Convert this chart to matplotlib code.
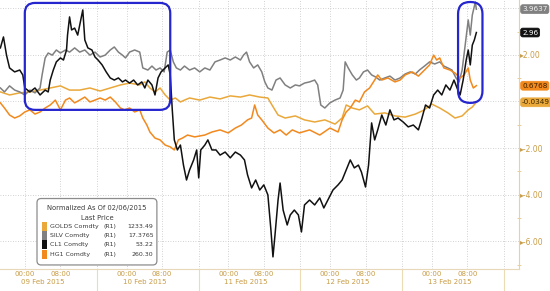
import matplotlib
matplotlib.use('Agg')  # no display in the sandbox
import matplotlib.pyplot as plt
from matplotlib.patches import FancyBboxPatch, Rectangle
from matplotlib.transforms import blended_transform_factory

# ---------------------------------------------------------------------------
# Data: x is in trading-session days (session 0 = 09 Feb 2015),
# y is the price normalized as of 02/06/2015
# ---------------------------------------------------------------------------

cl1_t = [0.05, 0.08, 0.11, 0.14, 0.19, 0.24, 0.27, 0.29, 0.34, 0.39, 0.44, 0.49, 0.52,
         0.54, 0.57, 0.60, 0.64, 0.67, 0.70, 0.71, 0.73, 0.75, 0.78, 0.81, 0.83, 0.86,
         0.88, 0.91, 0.95, 0.98, 1.01, 1.05, 1.09, 1.13, 1.17, 1.21, 1.25, 1.28, 1.32,
         1.36, 1.40, 1.44, 1.47, 1.50, 1.54, 1.57, 1.60, 1.63, 1.67, 1.70, 1.72, 1.74,
         1.76, 1.79, 1.82, 1.85, 1.88, 1.91, 1.95, 1.98, 2.00, 2.02, 2.06, 2.09, 2.13,
         2.17, 2.21, 2.26, 2.31, 2.36, 2.41, 2.45, 2.48, 2.52, 2.56, 2.60, 2.64, 2.68,
         2.71, 2.73, 2.75, 2.78, 2.80, 2.83, 2.87, 2.90, 2.94, 2.98, 3.01, 3.04, 3.09,
         3.14, 3.19, 3.23, 3.27, 3.32, 3.37, 3.41, 3.45, 3.49, 3.53, 3.57, 3.60, 3.64,
         3.67, 3.70, 3.73, 3.76, 3.80, 3.84, 3.88, 3.92, 3.96, 4.01, 4.06, 4.11, 4.16,
         4.19, 4.23, 4.27, 4.31, 4.35, 4.39, 4.43, 4.47, 4.51, 4.54, 4.57, 4.60, 4.63,
         4.65, 4.67, 4.69, 4.71, 4.73]
cl1_v = [2.30, 2.77, 1.99, 1.44, 1.27, 1.35, 1.14, 0.58, 0.41, 0.58, 0.28, 0.49, 0.41,
         0.92, 1.35, 1.70, 1.87, 1.78, 2.21, 2.85, 3.63, 3.07, 3.15, 2.85, 3.28, 3.93,
         2.64, 2.30, 2.21, 1.91, 1.78, 1.57, 1.27, 1.01, 0.92, 1.01, 0.84, 0.92, 0.79,
         0.92, 0.71, 0.84, 0.58, 0.92, 0.71, 0.28, 1.01, 1.27, 1.44, 1.57, 1.14, -0.36,
         -1.65, -2.08, -1.87, -2.73, -3.37, -2.94, -2.51, -2.08, -3.28, -2.08, -1.87, -1.65, -2.08,
         -2.08, -2.30, -2.17, -2.42, -2.17, -2.30, -2.51, -3.15, -3.71, -3.37, -3.80, -3.58, -4.01,
         -5.52, -6.67, -5.73, -4.23, -3.50, -4.66, -5.30, -4.87, -4.66, -4.87, -5.60, -4.44, -4.23,
         -4.44, -4.14, -4.57, -4.23, -3.80, -3.58, -3.37, -2.94, -2.51, -2.85, -2.73, -3.03, -3.67,
         -2.73, -0.92, -1.65, -1.22, -0.58, -1.01, -0.36, -0.79, -0.71, -0.88, -1.09, -1.01, -1.22,
         -0.79, -0.15, -0.28, 0.28, 0.49, 0.28, 0.71, 0.49, 0.92, 0.58, 0.28, 0.92, 1.78,
         2.21, 1.57, 2.42, 2.64, 2.96]

silv_t = [0.05, 0.09, 0.14, 0.19, 0.24, 0.29, 0.34, 0.39, 0.44, 0.46, 0.49, 0.52, 0.56,
          0.60, 0.64, 0.69, 0.73, 0.78, 0.83, 0.88, 0.93, 0.98, 1.03, 1.08, 1.13, 1.17,
          1.21, 1.25, 1.28, 1.32, 1.37, 1.42, 1.45, 1.50, 1.54, 1.58, 1.62, 1.66, 1.69,
          1.72, 1.75, 1.78, 1.82, 1.86, 1.91, 1.96, 2.01, 2.06, 2.11, 2.16, 2.21, 2.26,
          2.31, 2.36, 2.41, 2.44, 2.47, 2.50, 2.54, 2.58, 2.62, 2.65, 2.68, 2.72, 2.76,
          2.80, 2.85, 2.90, 2.95, 2.99, 3.04, 3.09, 3.14, 3.17, 3.20, 3.24, 3.29, 3.34,
          3.39, 3.42, 3.44, 3.47, 3.51, 3.55, 3.58, 3.62, 3.66, 3.70, 3.74, 3.78, 3.83,
          3.88, 3.93, 3.98, 4.03, 4.08, 4.13, 4.17, 4.22, 4.27, 4.32, 4.37, 4.41, 4.45,
          4.49, 4.53, 4.56, 4.59, 4.62, 4.65, 4.67, 4.69, 4.72, 4.73]
silv_v = [0.58, 0.41, 0.67, 0.49, 0.41, 0.28, 0.49, 0.37, 0.58, 1.14, 1.87, 2.08, 1.99,
          2.21, 2.08, 2.21, 2.12, 2.30, 2.12, 2.21, 1.99, 2.12, 1.91, 1.99, 2.21, 2.34,
          2.12, 1.99, 1.87, 2.12, 2.21, 2.12, 1.44, 1.35, 1.52, 1.35, 1.44, 1.27, 2.12,
          2.21, 1.70, 1.44, 1.35, 1.52, 1.35, 1.44, 1.27, 1.44, 1.35, 1.70, 1.78, 1.87,
          1.78, 1.91, 1.78, 1.99, 2.12, 1.70, 1.44, 1.57, 1.27, 0.84, 0.58, 0.49, 0.92,
          1.01, 0.71, 0.58, 0.71, 0.67, 0.79, 0.84, 0.92, 0.71, -0.15, -0.28, -0.06, 0.06,
          0.15, 0.49, 1.70, 1.44, 1.14, 0.92, 1.01, 1.27, 1.35, 1.14, 1.05, 0.92, 1.01,
          1.09, 0.92, 1.01, 1.18, 1.27, 1.18, 1.35, 1.52, 1.70, 1.61, 1.70, 1.52, 1.44,
          1.35, 1.01, 0.84, 1.35, 2.42, 3.50, 2.85, 3.71, 4.27, 3.96]

golds_t = [0.05, 0.14, 0.24, 0.34, 0.44, 0.54, 0.64, 0.73, 0.83, 0.93, 1.03, 1.13, 1.23,
           1.32, 1.42, 1.47, 1.52, 1.57, 1.62, 1.67, 1.72, 1.77, 1.82, 1.86, 1.91, 2.01,
           2.11, 2.21, 2.31, 2.41, 2.50, 2.60, 2.68, 2.72, 2.78, 2.85, 2.95, 3.04, 3.14,
           3.24, 3.34, 3.41, 3.45, 3.51, 3.58, 3.66, 3.73, 3.83, 3.93, 4.03, 4.13, 4.22,
           4.29, 4.37, 4.45, 4.52, 4.59, 4.65, 4.69, 4.73]
golds_v = [0.41, 0.28, 0.37, 0.41, 0.49, 0.58, 0.67, 0.49, 0.49, 0.58, 0.45, 0.58, 0.71,
           0.79, 0.71, 0.84, 0.58, 0.41, 0.58, 0.28, 0.06, 0.15, -0.02, 0.06, 0.15, 0.06,
           0.19, 0.11, 0.24, 0.19, 0.28, 0.19, 0.15, -0.15, -0.58, -0.71, -0.62, -0.79, -0.88,
           -0.79, -0.97, -0.71, -0.15, -0.28, -0.36, -0.19, -0.54, -0.49, -0.62, -0.67, -0.54, -0.36,
           -0.11, -0.28, -0.49, -0.71, -0.62, -0.36, -0.24, -0.03]

hg1_t = [0.05, 0.09, 0.14, 0.19, 0.24, 0.29, 0.34, 0.39, 0.44, 0.49, 0.54, 0.59, 0.64,
         0.69, 0.73, 0.78, 0.83, 0.88, 0.93, 0.98, 1.03, 1.08, 1.13, 1.18, 1.23, 1.27,
         1.32, 1.37, 1.42, 1.45, 1.49, 1.52, 1.57, 1.62, 1.67, 1.72, 1.76, 1.80, 1.84,
         1.89, 1.96, 2.06, 2.13, 2.21, 2.29, 2.36, 2.42, 2.48, 2.52, 2.55, 2.58, 2.62,
         2.68, 2.74, 2.80, 2.86, 2.92, 2.99, 3.09, 3.19, 3.29, 3.37, 3.41, 3.45, 3.49,
         3.54, 3.58, 3.63, 3.68, 3.73, 3.76, 3.80, 3.86, 3.93, 3.98, 4.03, 4.10, 4.16,
         4.22, 4.27, 4.31, 4.34, 4.37, 4.41, 4.47, 4.52, 4.57, 4.61, 4.65, 4.67, 4.70,
         4.73]
hg1_v = [-0.06, -0.28, -0.58, -0.71, -0.62, -0.45, -0.36, -0.54, -0.45, -0.28, -0.15, 0.06, -0.36,
         0.06, 0.15, -0.06, 0.06, 0.19, -0.02, 0.06, 0.15, 0.06, 0.19, -0.02, -0.28, -0.36,
         -0.28, -0.45, -0.36, -0.71, -1.01, -1.31, -1.57, -1.65, -1.87, -1.95, -2.08, -1.65, -1.57,
         -1.44, -1.52, -1.44, -1.31, -1.22, -1.35, -1.14, -1.01, -0.79, -0.71, -0.15, -0.58, -0.79,
         -1.14, -1.35, -1.22, -1.44, -1.22, -1.35, -1.22, -1.44, -1.14, -1.31, -0.79, -0.45, -0.28,
         0.06, -0.02, 0.41, 0.58, 0.92, 1.14, 0.92, 1.01, 0.84, 0.92, 1.14, 1.27, 1.09,
         1.35, 1.57, 1.99, 1.78, 1.87, 1.44, 1.35, 1.22, 1.01, 1.14, 1.44, 0.92, 0.58,
         0.68]

series_names = ["GOLDS Comdty", "SILV Comdty", "CL1 Comdty", "HG1 Comdty"]
last_prices = ["1233.49", "17.3765", "53.22", "260.30"]
last_values = ["-0.0349", "3.9637", "2.96", "0.6768"]
last_levels = [-0.0349, 3.9637, 2.96, 0.6768]

day_labels = ["09 Feb 2015", "10 Feb 2015", "11 Feb 2015", "12 Feb 2015", "13 Feb 2015"]
hour_labels = ["00:00", "08:00"]
y_ticks = [-6, -4, -2, 0, 2, 4]

# styling
COLORS = ["#eaa83a", "#808080", "#111111", "#f2891d"]
TAG_TEXT = ["#3b2600", "#f2f2f2", "#ffffff", "#3b2000"]
GOLD = "#c99c45"
GRID = "#c3c3c3"
BOX_BLUE = "#2626cf"
HOUR_OFFSETS = [0.29, 0.64]   # where 00:00 / 08:00 fall inside a session
X_RANGE = (0.046, 5.149)
Y_RANGE = (-7.19, 4.356)


def draw_chart(out_path: str) -> None:
    """Draws the normalized commodity chart and saves it to out_path."""
    fig = plt.figure(figsize=(5.5, 2.91), dpi=100)
    ax = fig.add_axes([0, 0.0756, 0.9436, 0.9244])
    ax.set_xlim(*X_RANGE)
    ax.set_ylim(*Y_RANGE)

    day_bounds = [1, 2, 3, 4, 5]
    hour_ticks = [d + off for d in range(len(day_labels)) for off in HOUR_OFFSETS]

    # dotted grid
    for y in y_ticks:
        ax.axhline(y, color=GRID, lw=0.6, ls=(0, (1, 2)), zorder=0)
    for x in day_bounds + hour_ticks:
        ax.axvline(x, color=GRID, lw=0.6, ls=(0, (1, 2)), zorder=0)

    series = [(golds_t, golds_v), (silv_t, silv_v), (cl1_t, cl1_v), (hg1_t, hg1_v)]
    z_order = [2, 3, 5, 4]
    for (t, v), c, z in zip(series, COLORS, z_order):
        ax.plot(t, v, color=c, lw=1.1, zorder=z)

    # highlight boxes (pixel-ish rounding through mutation_aspect)
    aspect = (Y_RANGE[1] - Y_RANGE[0]) / 269 / ((X_RANGE[1] - X_RANGE[0]) / 519)
    for x0, x1, y0, y1, r in [(0.29, 1.72, -0.36, 4.23, 0.10), (4.55, 4.79, -0.06, 4.27, 0.118)]:
        ax.add_patch(FancyBboxPatch((x0, y0), x1 - x0, y1 - y0,
                                    boxstyle=f"round,pad=0,rounding_size={r}",
                                    mutation_aspect=aspect, fill=False,
                                    ec=BOX_BLUE, lw=1.6, zorder=6))

    # spines
    for side in ["left", "top"]:
        ax.spines[side].set_visible(False)
    ax.spines["right"].set_color("#e6d1a0")
    ax.spines["right"].set_linewidth(0.8)
    ax.spines["bottom"].set_color("#e6d8b8")
    ax.spines["bottom"].set_linewidth(0.8)

    # right value axis
    ax.yaxis.tick_right()
    ax.set_yticks(y_ticks)
    ax.set_yticklabels(["" if y in (0, 4) else "\u25b8%.2f" % y for y in y_ticks])
    ax.set_yticks([-7, -5, -3, -1, 1, 3], minor=True)
    ax.tick_params(axis="y", which="major", length=0, pad=0.5, labelsize=5.5, labelcolor=GOLD)
    ax.tick_params(axis="y", which="minor", length=2.5, direction="inout", color="#e0c88e", width=0.6)

    # time axis: long separators between sessions, hour labels, date labels
    ax.set_xticks(day_bounds)
    ax.set_xticklabels([""] * len(day_bounds))
    ax.set_xticks(hour_ticks, minor=True)
    ax.set_xticklabels(hour_labels * len(day_labels), minor=True)
    ax.tick_params(axis="x", which="major", length=17, width=0.8, color="#ecdcb4")
    ax.tick_params(axis="x", which="minor", length=0, pad=1.2, labelsize=5, labelcolor=GOLD)
    blend_x = blended_transform_factory(ax.transData, ax.transAxes)
    for d, label in enumerate(day_labels):
        ax.text(d + sum(HOUR_OFFSETS) / 2, -0.047, label, transform=blend_x,
                ha="center", va="center", fontsize=5, color=GOLD, clip_on=False)

    # last value tags on the right edge
    blend_y = blended_transform_factory(ax.transAxes, ax.transData)
    for level, label, c, tc in zip(last_levels, last_values, COLORS, TAG_TEXT):
        ax.text(1.006, level, label, transform=blend_y, ha="left", va="center",
                fontsize=5.2, color=tc, zorder=10, clip_on=False,
                bbox=dict(boxstyle="round,pad=0.2,rounding_size=0.3", fc=c, ec=c, lw=0.5))

    # legend panel
    ax.add_patch(FancyBboxPatch((0.0713, 0.015), 0.231, 0.247, transform=ax.transAxes,
                                boxstyle="round,pad=0,rounding_size=0.008",
                                mutation_aspect=519 / 269, fc="white", ec="#8c8c8c",
                                lw=0.9, zorder=8))
    txt = dict(transform=ax.transAxes, color="#3a3a3a", va="center", zorder=9)
    ax.text(0.187, 0.225, "Normalized As Of 02/06/2015", ha="center", fontsize=4.9, **txt)
    ax.text(0.187, 0.191, "Last Price", ha="center", fontsize=4.9, **txt)
    rows_y = [0.157, 0.124, 0.090, 0.053]
    for y, name, price, c in zip(rows_y, series_names, last_prices, COLORS):
        ax.add_patch(Rectangle((0.081, y - 0.016), 0.0095, 0.032, transform=ax.transAxes,
                               fc=c, ec="none", zorder=9))
        ax.text(0.097, y, name, ha="left", fontsize=4.5, **txt)
        ax.text(0.2, y, "(R1)", ha="left", fontsize=4.5, **txt)
        ax.text(0.296, y, price, ha="right", fontsize=4.5, **txt)

    fig.savefig(out_path, dpi=100)
    plt.close(fig)


if __name__ == "__main__":
    draw_chart("out.png")
